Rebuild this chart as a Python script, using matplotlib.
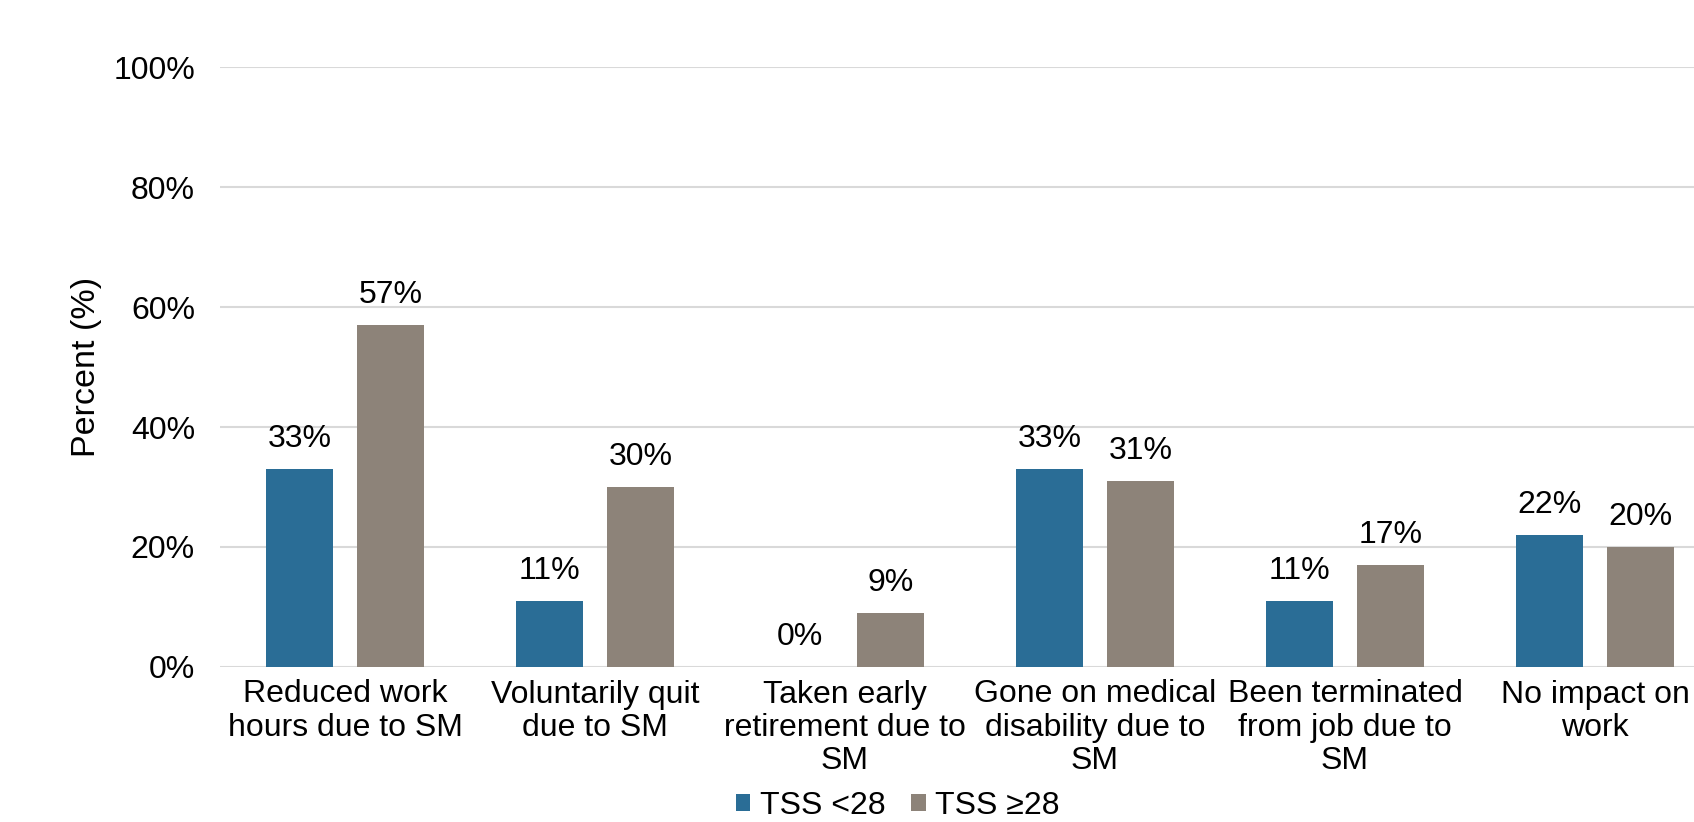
import matplotlib
matplotlib.use("Agg")
import matplotlib.pyplot as plt
import numpy as np

plt.rcParams["font.family"] = ["Liberation Sans", "DejaVu Sans"]

# Chart data
categories = [
    "Reduced work\nhours due to SM",
    "Voluntarily quit\ndue to SM",
    "Taken early\nretirement due to\nSM",
    "Gone on medical\ndisability due to\nSM",
    "Been terminated\nfrom job due to\nSM",
    "No impact on\nwork",
]
tss_low = [33, 11, 0, 33, 11, 22]
tss_high = [57, 30, 9, 31, 17, 20]
series_names = ["TSS <28", "TSS \u226528"]
y_ticks = [0, 20, 40, 60, 80, 100]

blue = "#2A6D96"
gray = "#8D8379"
grid = "#D9D9D9"
fs = 23

W, H = 1694, 822
fig = plt.figure(figsize=(W / 100, H / 100), dpi=100)
# plot area runs past the right edge, as in the reference
ax = fig.add_axes([220 / W, 1 - 667 / H, 1500 / W, 600 / H])

x = np.arange(len(categories))
bw = 0.266
off = 0.182
b1 = ax.bar(x - off, tss_low, bw, color=blue, label=series_names[0], zorder=3)
b2 = ax.bar(x + off, tss_high, bw, color=gray, label=series_names[1], zorder=3)

for bars in (b1, b2):
    for rect in bars:
        v = rect.get_height()
        ax.annotate(f"{v:.0f}%", (rect.get_x() + rect.get_width() / 2, v),
                    xytext=(0, 11), textcoords="offset points",
                    ha="center", va="bottom", fontsize=fs)

ax.set_xlim(-0.5, len(categories) - 0.5)
ax.set_ylim(0, 100)
ax.set_yticks(y_ticks)
ax.set_yticklabels([f"{t}%" for t in y_ticks], fontsize=fs)
ax.set_xticks(x)
ax.set_xticklabels(categories, fontsize=fs, linespacing=1.15)
ax.tick_params(axis="both", length=0)
ax.tick_params(axis="x", pad=9)
ax.tick_params(axis="y", pad=18)
ax.yaxis.grid(True, color=grid, linewidth=1.5, zorder=0)
for s in ax.spines.values():
    s.set_visible(False)
ax.set_ylabel("Percent (%)", fontsize=24.5, labelpad=8)

fig.legend(handles=[b1, b2], loc="lower left",
           bbox_to_anchor=(736 / W, 1 / H), ncol=2, frameon=False,
           fontsize=fs, handlelength=0.45, handleheight=0.45,
           handletextpad=0.3, columnspacing=0.8,
           borderpad=0, borderaxespad=0)

fig.savefig("out.png", dpi=100)
